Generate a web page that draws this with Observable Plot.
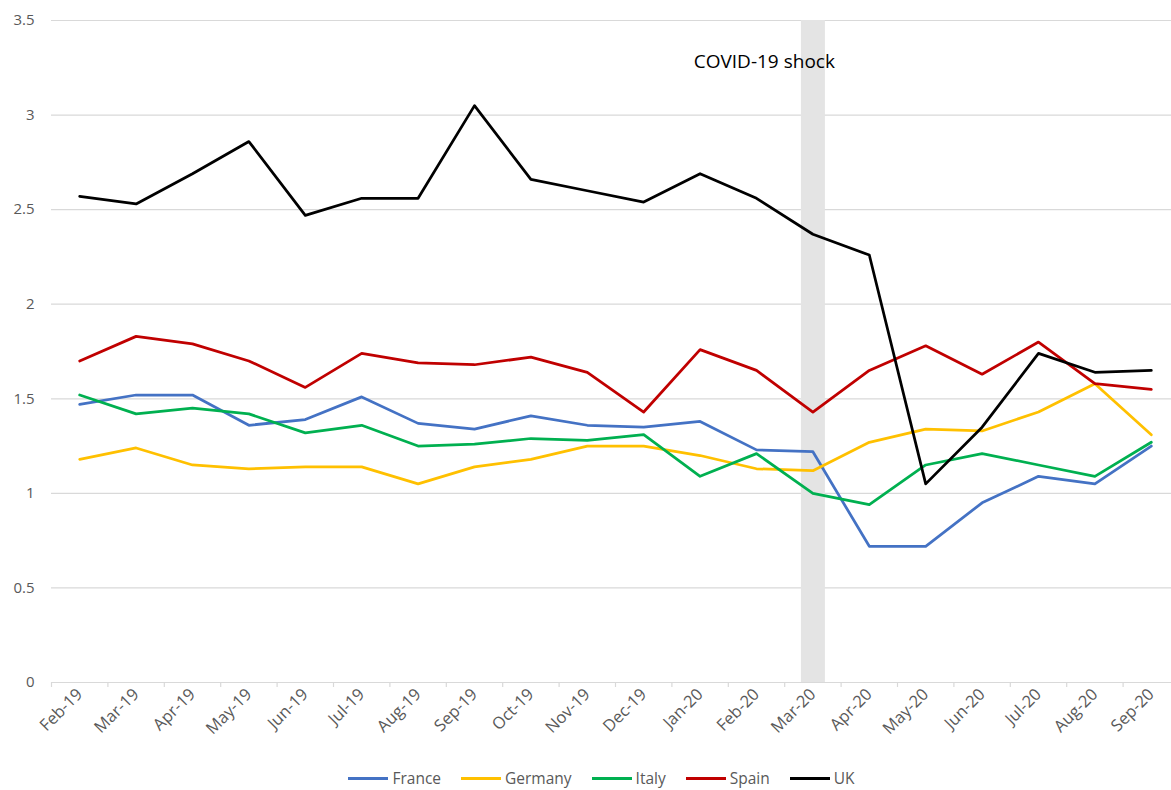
<!DOCTYPE html>
<html>
<head>
<meta charset="utf-8">
<script src="https://cdn.jsdelivr.net/npm/d3@7"></script>
<script src="https://cdn.jsdelivr.net/npm/@observablehq/plot@0.6"></script>
<style>
  html, body { margin: 0; padding: 0; background: #fff; overflow: hidden; }
  #chart svg { display: block; }
  #legend {
    height: 20px; margin-top: 13px;
    display: flex; justify-content: center; align-items: center;
    font-family: "Open Sans", sans-serif; font-size: 15.5px; color: #595959;
    transform: translateX(16px);
  }
  .item { display: flex; align-items: center; margin: 0 10px; }
  .sw { width: 40px; height: 3px; margin-right: 4px; }
</style>
</head>
<body>
<div id="chart"></div>
<div id="legend"></div>
<script>
const months = ["Feb-19","Mar-19","Apr-19","May-19","Jun-19","Jul-19","Aug-19","Sep-19","Oct-19","Nov-19","Dec-19","Jan-20","Feb-20","Mar-20","Apr-20","May-20","Jun-20","Jul-20","Aug-20","Sep-20"];
const countries = ["France","Germany","Italy","Spain","UK"];
const colors = ["#4472C4","#FFC000","#00B050","#C00000","#000000"];

const france  = [1.47,1.52,1.52,1.36,1.39,1.51,1.37,1.34,1.41,1.36,1.35,1.38,1.23,1.22,0.72,0.72,0.95,1.09,1.05,1.25];
const germany = [1.18,1.24,1.15,1.13,1.14,1.14,1.05,1.14,1.18,1.25,1.25,1.20,1.13,1.12,1.27,1.34,1.33,1.43,1.58,1.31];
const italy   = [1.52,1.42,1.45,1.42,1.32,1.36,1.25,1.26,1.29,1.28,1.31,1.09,1.21,1.00,0.94,1.15,1.21,1.15,1.09,1.27];
const spain   = [1.70,1.83,1.79,1.70,1.56,1.74,1.69,1.68,1.72,1.64,1.43,1.76,1.65,1.43,1.65,1.78,1.63,1.80,1.58,1.55];
const uk      = [2.57,2.53,2.69,2.86,2.47,2.56,2.56,3.05,2.66,2.60,2.54,2.69,2.56,2.37,2.26,1.05,1.35,1.74,1.64,1.65];

const yTicks = [0,0.5,1,1.5,2,2.5,3,3.5];
const yTickLabels = ["0","0.5","1","1.5","2","2.5","3","3.5"];
const shockMonth = "Mar-20";
const annotation = {text: "COVID-19 shock", month: "Mar-20", value: 3.28};

const series = [france, germany, italy, spain, uk];
const data = [];
series.forEach((vals, k) => vals.forEach((v, i) => data.push({country: countries[k], i, value: v})));

const idx = months.map((_, i) => i);
const bounds = months.map((_, i) => i - 0.5).concat([months.length - 0.5]);
const shockIdx = months.indexOf(shockMonth);

const chart = Plot.plot({
  width: 1171,
  height: 755,
  marginTop: 20,
  marginBottom: 73,
  marginLeft: 51,
  marginRight: 0,
  style: {fontFamily: "'Open Sans', sans-serif", background: "#fff"},
  x: {type: "linear", domain: [-0.5, months.length - 0.5], range: [51, 1179], label: null},
  y: {domain: [0, 3.5], label: null},
  color: {domain: countries, range: colors},
  marks: [
    Plot.ruleY(yTicks, {stroke: "#D9D9D9", strokeWidth: 1.2}),
    Plot.ruleX([shockIdx], {x: d => d, y1: 0, y2: 3.5, stroke: "#E4E4E4", strokeWidth: 24}),
    Plot.axisX({ticks: bounds, tickSize: 5, tickFormat: () => "", stroke: "#D9D9D9", strokeWidth: 1.2, label: null}),
    Plot.axisX({ticks: idx, tickSize: 0, tickPadding: 9, tickRotate: -45, tickFormat: i => months[i], fontSize: 16.5, fill: "#595959", label: null}),
    Plot.axisY({ticks: yTicks, tickSize: 0, tickPadding: 17, tickFormat: (d) => yTickLabels[yTicks.indexOf(d)], fontSize: 15, fill: "#595959", label: null}),
    Plot.lineY(data, {x: "i", y: "value", z: "country", stroke: "country", strokeWidth: 2.75, strokeLinejoin: "round"}),
    Plot.text([annotation], {x: d => months.indexOf(d.month), y: "value", text: "text", textAnchor: "end", dx: 22, fontSize: 19, fill: "#000"})
  ]
});
document.getElementById("chart").appendChild(chart);

const legend = document.getElementById("legend");
countries.forEach((c, k) => {
  const it = document.createElement("div");
  it.className = "item";
  it.innerHTML = `<span class="sw" style="background:${colors[k]}"></span><span>${c}</span>`;
  legend.appendChild(it);
});
</script>
</body>
</html>
